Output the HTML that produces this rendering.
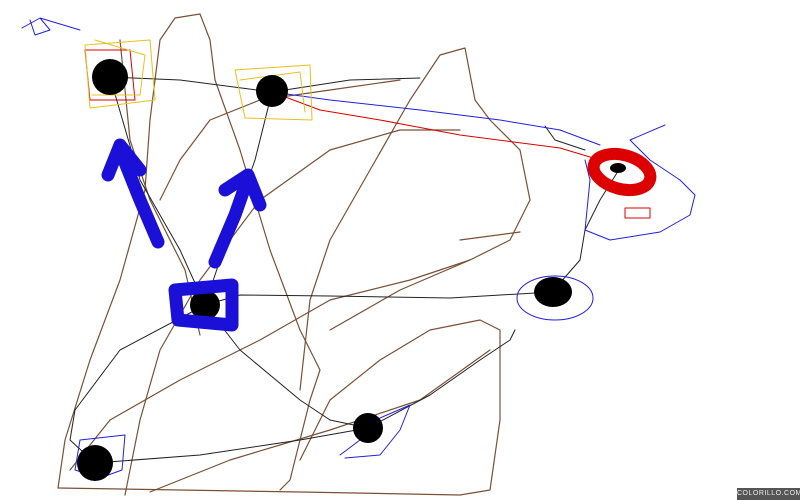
<!DOCTYPE html>
<html><head><style>
html,body{margin:0;padding:0;background:#fff;}
.wrap{position:relative;width:800px;height:500px;overflow:hidden;}
.tag{position:absolute;left:737px;top:488px;width:63px;height:12px;background:#555;color:#eee;font:7px "Liberation Sans",sans-serif;line-height:12px;text-align:center;letter-spacing:0.5px;}
</style></head><body><div class="wrap">
<svg width="800" height="500" viewBox="0 0 800 500" fill="none" stroke-linecap="round" stroke-linejoin="round">
<!-- brown strokes -->
<g stroke="#7a5035" stroke-width="1.2">
<path d="M58,488 L65,440 L90,360 L120,280 L145,190 L150,120 L160,40 L175,18 L200,14 L210,40 L215,80 L240,150 L270,250 L300,330 L320,370 L310,400 L300,440 L290,480 L280,490"/>
<path d="M58,488 L300,492 L460,495 L490,490 L500,420 L500,330 L480,320 L430,330 L380,360 L330,400 L300,460"/>
<path d="M300,390 L310,300 L330,240 L370,170 L410,100 L440,55 L465,48 L475,100 L490,120 L520,150 L530,200 L510,240 L470,260 L400,290 L330,330"/>
<path d="M125,495 L140,420 L160,350 L200,280 L260,200 L330,150 L400,130 L460,130"/>
<path d="M160,200 L180,160 L210,120 L260,100 L330,90 L400,80"/>
<path d="M70,470 L110,420 L180,380 L260,340 L330,300 L410,280 L470,260"/>
<path d="M150,492 L230,460 L330,430 L420,400 L490,350"/>
<path d="M460,240 L520,232"/>
<path d="M120,40 L130,140 L150,200 L185,270 L200,335"/>
</g>
<!-- black thin -->
<g stroke="#222" stroke-width="1">
<path d="M110,77 L180,80 L272,92 L350,80 L420,78"/>
<path d="M110,77 L140,180 L180,250 L205,305"/>
<path d="M272,92 L255,160 L230,230 L205,305"/>
<path d="M205,305 L240,295 L330,296 L450,298 L552,292"/>
<path d="M205,305 L120,350 L75,410 L70,440 L95,463"/>
<path d="M205,305 L240,350 L300,400 L330,420 L368,428"/>
<path d="M95,463 L200,455 L300,440 L368,428 L430,395 L480,360 L510,340 L515,330"/>
<path d="M552,292 L580,260 L585,230 L600,200 L620,168"/>
<path d="M545,126 L555,140 L585,150"/>
</g>
<!-- red thin -->
<g stroke="#d00" stroke-width="1">
<path d="M272,92 L320,110 L380,120 L460,135 L560,148 L600,160"/>
<rect x="625" y="208" width="25" height="10"/>
<path d="M85,50 L130,50 L135,100 L90,100 Z"/>
</g>
<!-- blue thin -->
<g stroke="#2020e0" stroke-width="1">
<path d="M272,92 L330,100 L420,110 L500,120 L560,130 L600,145"/>
<path d="M585,160 L590,180 L585,230 L610,240 L660,232 L690,215 L695,195 L680,180 L650,160 L630,140 L665,125"/>
<ellipse cx="555" cy="298" rx="38" ry="22"/>
<path d="M340,455 L360,440 L380,418 L410,405 L400,430 L380,455 L345,458"/>
<path d="M80,440 L125,435 L122,470 L100,478 L75,470 L80,440"/>
<path d="M22,28 L40,18 L50,30 L35,35 L30,20 M40,18 L80,30"/>
</g>
<!-- yellow squiggles -->
<g stroke="#e8c020" stroke-width="1">
<path d="M85,45 L150,40 L155,100 L90,108 Z M95,40 L145,55 L140,95 L92,95"/>
<path d="M235,70 L310,65 L312,120 L245,118 Z M240,80 L300,72 L305,112"/>
</g>
<!-- nodes -->
<g fill="#000">
<circle cx="110" cy="77" r="18"/>
<circle cx="272" cy="91" r="16"/>
<circle cx="205" cy="305" r="15"/>
<ellipse cx="553" cy="292" rx="19" ry="15"/>
<circle cx="368" cy="428" r="15"/>
<circle cx="95" cy="463" r="18"/>
</g>
<!-- red ring -->
<ellipse cx="622" cy="172" rx="29" ry="17" stroke="#d00" stroke-width="12" transform="rotate(15 622 172)"/>
<ellipse cx="618" cy="168" rx="8" ry="5" fill="#000"/>
<!-- blue thick -->
<g stroke="#1a10d8" stroke-width="13">
<path d="M158,242 L140,200 L120,150"/>
<path d="M108,175 L120,145 L140,170"/>
<path d="M215,262 L235,215 L248,178"/>
<path d="M225,190 L248,175 L260,205"/>
<path d="M175,290 L232,285 L232,325 L178,320 Z"/>
</g>
</svg>
<div class="tag">COLORILLO.COM</div>
</div></body></html>
